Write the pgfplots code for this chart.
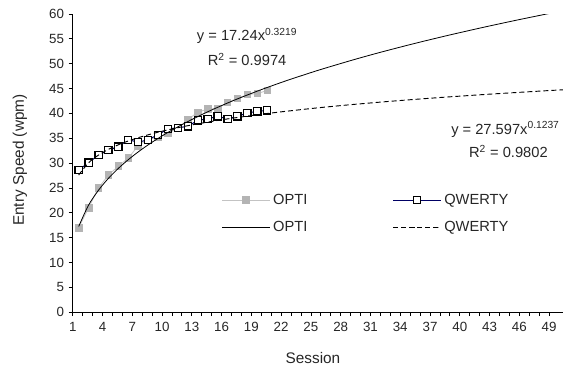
\documentclass[border=0pt]{standalone}
\usepackage{fontspec}
\setmainfont{Liberation Sans}
\usepackage{pgfplots}
\pgfplotsset{compat=1.18}
\definecolor{optigray}{RGB}{180,180,180}
\definecolor{optiline}{RGB}{195,195,195}
\definecolor{qnavy}{RGB}{0,0,100}
\begin{document}
\begin{tikzpicture}
\begin{axis}[
  scale only axis, width=367.5pt, height=223.5pt,
  xmin=0.4, xmax=49.8, ymin=0, ymax=60,
  axis lines=left, axis line style={-, black, line width=0.7pt},
  clip mode=individual,
  xtick={0.4,3.4,6.4,9.4,12.4,15.4,18.4,21.4,24.4,27.4,30.4,33.4,36.4,39.4,42.4,45.4,48.4},
  xticklabels={1,4,7,10,13,16,19,22,25,28,31,34,37,40,43,46,49},
  minor x tick num=2,
  ytick={0,5,...,60},
  tick align=outside, major tick length=3pt, minor tick length=3pt,
  tick style={black, line width=0.6pt},
  /pgf/number format/assume math mode=true,
  ticklabel style={font=\fontsize{10}{11}\selectfont, text=black!85},
  xticklabel style={yshift=-1pt},
  xlabel={Session}, ylabel={Entry Speed (wpm)},
  label style={font=\fontsize{11.5}{13}\selectfont, text=black!85},
  xlabel style={at={(axis description cs:0.49,0)}, anchor=center, yshift=-34.5pt},
  ylabel style={at={(axis description cs:-0.1075,0.51)}, anchor=center},
  legend columns=2,
  legend cell align=left,
  legend style={at={(axis cs:15,24.9)}, anchor=north west, draw=none, fill=none,
    font=\fontsize{11}{13}\selectfont, text=black!85,
    /tikz/every even column/.append style={column sep=62pt}, row sep=7pt},
  legend image code/.code={\draw[mark repeat=2,mark phase=2,#1] plot coordinates {(0cm,0cm) (0.63cm,0cm) (1.26cm,0cm)};},
]
% OPTI data
\addplot[color=optiline, line width=0.6pt, mark=square*, mark size=2.5pt,
  mark options={fill=optigray, draw=optigray, solid}] coordinates {
(1,17.0) (2,21.0) (3,25.0) (4,27.6) (5,29.4) (6,31.0) (7,33.5) (8,34.8) (9,35.2) (10,36.0)
(11,37.0) (12,38.8) (13,40.2) (14,40.9) (15,41.0) (16,42.2) (17,43.0) (18,43.8) (19,44.0) (20,44.6)};
\addlegendentry{OPTI}
% QWERTY data
\addplot[color=qnavy, line width=0.75pt, mark=square*, mark size=2.7pt,
  mark options={fill=white, draw=black, line width=0.9pt, solid}] coordinates {
(1,28.6) (2,30.1) (3,31.6) (4,32.6) (5,33.3) (6,34.7) (7,34.2) (8,34.7) (9,35.7) (10,36.9)
(11,37.1) (12,37.4) (13,38.6) (14,38.9) (15,39.4) (16,38.9) (17,39.4) (18,40.1) (19,40.4) (20,40.6)};
\addlegendentry{QWERTY}
% OPTI power trend
\addplot[black, line width=0.6pt, smooth] coordinates {
(1,17.24) (2,21.55) (3,24.55) (4,26.94) (5,28.94) (6,30.69) (7,32.25) (8,33.67) (9,34.97) (10,36.18)
(11,37.30) (12,38.36) (13,39.36) (14,40.32) (15,41.22) (16,42.09) (17,42.92) (18,43.71) (19,44.48) (20,45.22)
(22,46.63) (25,48.59) (28,50.39) (30,51.53) (32,52.61) (35,54.15) (38,55.60) (40,56.52) (42,57.42)
(45,58.71) (48,59.94) (50,60.73)};
\addlegendentry{OPTI}
% QWERTY power trend
\addplot[black, line width=0.7pt, dash pattern=on 3.75pt off 2.25pt, smooth] coordinates {
(1,27.60) (2,30.07) (3,31.61) (4,32.76) (5,33.68) (6,34.45) (7,35.11) (8,35.69) (9,36.22) (10,36.69)
(11,37.13) (12,37.53) (13,37.90) (14,38.25) (15,38.58) (16,38.89) (17,39.18) (18,39.46) (19,39.72) (20,39.98)
(22,40.45) (25,41.10) (28,41.68) (30,42.03) (32,42.37) (35,42.84) (38,43.28) (40,43.55) (42,43.82)
(45,44.19) (48,44.55) (50,44.77)};
\addlegendentry{QWERTY}
\node[font=\fontsize{11}{12}\selectfont, text=black!85] at (axis cs:17.97,55.6) {y = 17.24x\textsuperscript{0.3219}};
\node[font=\fontsize{11}{12}\selectfont, text=black!85] at (axis cs:17.97,50.9) {R\textsuperscript{2} = 0.9974};
\node[font=\fontsize{11}{12}\selectfont, text=black!85] at (axis cs:44.0,36.8) {y = 27.597x\textsuperscript{0.1237}};
\node[font=\fontsize{11}{12}\selectfont, text=black!85] at (axis cs:44.3,32.4) {R\textsuperscript{2} = 0.9802};
\coordinate (sw) at (rel axis cs:0,0);
\coordinate (ne) at (rel axis cs:1,1);
\end{axis}
\pgfresetboundingbox
\path[use as bounding box] ([shift={(-54.5pt,-41.25pt)}]sw) rectangle ([shift={(0pt,10.5pt)}]ne);
\end{tikzpicture}
\end{document}
